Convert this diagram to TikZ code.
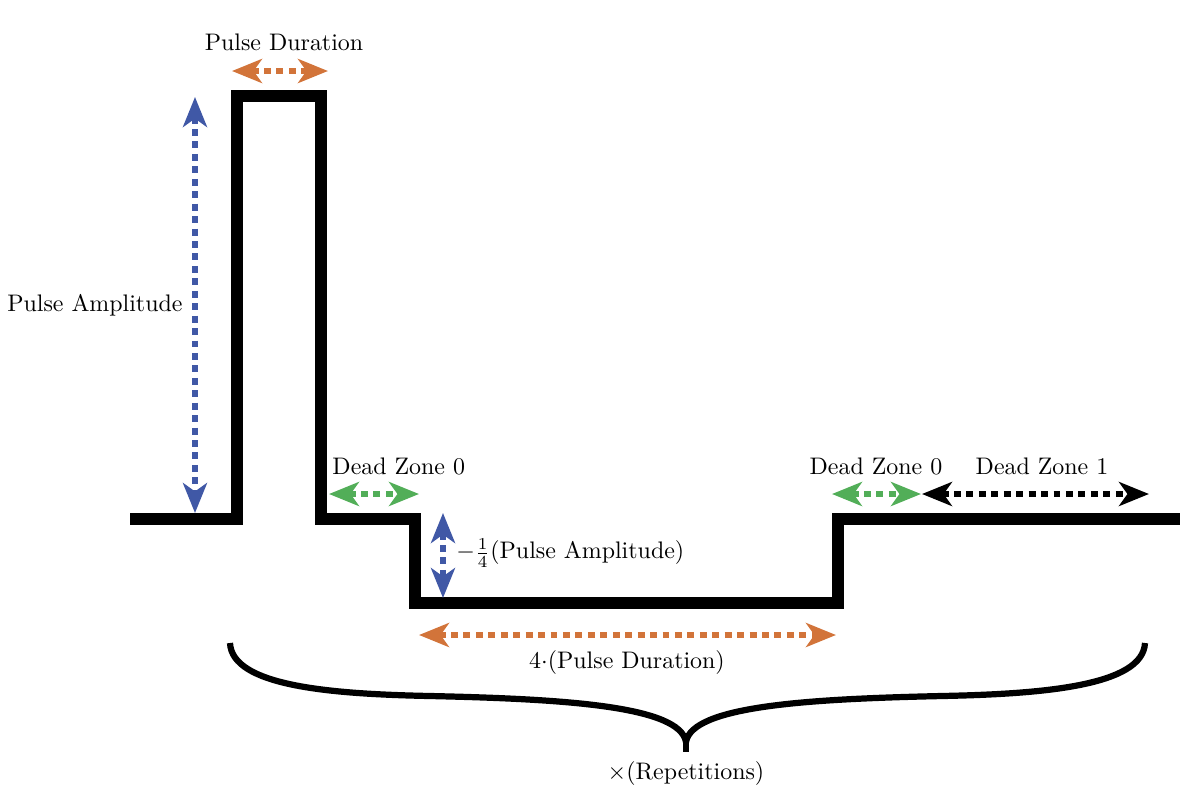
\documentclass[tikz,border=0pt]{standalone}
\usepackage[dvipsnames]{xcolor}
\usetikzlibrary{arrows.meta,positioning}

\definecolor{durorange}{RGB}{210,116,58}
\definecolor{ampblue}{RGB}{64,88,166}
\definecolor{deadgreen}{RGB}{82,174,88}

\begin{document}
\begin{tikzpicture}[x=0.418pt,y=-0.418pt,
    wave/.style={line width=5pt,line join=miter},
    span/.style={line width=2.9pt,dash pattern=on 2.9pt off 2.3pt,
        {Stealth[length=12.5pt,width=10pt,inset=3.5pt]}-{Stealth[length=12.5pt,width=10pt,inset=3.5pt]}},
    lbl/.style={inner sep=0pt,font=\normalsize}]

            \useasboundingbox (0,0) rectangle (1200,807);

            % the pulse train
            \draw[wave] (130,519) -- (237,519) -- (237,96) -- (321,96) -- (321,519)
                -- (415,519) -- (415,603) -- (838,603) -- (838,519) -- (1180,519);

            % end points of the spans
            \coordinate (d1) at (232,71);
            \coordinate (d2) at (328,71);
            \coordinate (a1) at (195,97);
            \coordinate (a2) at (195,513);
            \coordinate (z1) at (329,494);
            \coordinate (z2) at (419,494);
            \coordinate (n1) at (443,513);
            \coordinate (n2) at (443,598);
            \coordinate (f1) at (419,635);
            \coordinate (f2) at (836,635);
            \coordinate (z3) at (832,494);
            \coordinate (z4) at (921,494);
            \coordinate (z5) at (922,494);
            \coordinate (z6) at (1149,494);

            \draw[span,draw=durorange,color=durorange] (d1) to (d2);
            \draw[span,draw=ampblue,color=ampblue] (a1) to (a2);
            \draw[span,draw=deadgreen,color=deadgreen] (z1) to (z2);
            \draw[span,draw=ampblue,color=ampblue] (n1) to (n2);
            \draw[span,draw=durorange,color=durorange] (f1) to (f2);
            \draw[span,draw=deadgreen,color=deadgreen] (z3) to (z4);
            \draw[span] (z5) to (z6);

            % the brace
            \coordinate (b1) at (230,643);
            \coordinate (b2) at (1145,643);
            \coordinate (bt) at (686,742);
            \coordinate (bs) at (686,752);
            \draw[line width=2.6pt,line join=round]
                (b1) .. controls (232,686) and (330,694) .. (430,696)
                .. controls (565,699) and (680,706) .. (bt)
                .. controls (692,706) and (807,699) .. (942,696)
                .. controls (1042,694) and (1143,686) .. (b2);
            \draw[line width=2.6pt] (bt) -- (bs);

            % labels
            \node[lbl] (1) at (284,42) {Pulse Duration};
            \node[lbl,anchor=east] (2) at (183,305) {Pulse Amplitude};
            \node[lbl,anchor=west] (3) at (332,466) {Dead Zone 0};
            \node[lbl,anchor=west] (4) at (456,553) {$-\frac{1}{4}$(Pulse Amplitude)};
            \node[lbl] (5) at (627,663) {4$\cdot$(Pulse Duration)};
            \node[lbl] (6) at (876,466) {Dead Zone 0};
            \node[lbl] (7) at (1042,466) {Dead Zone 1};
            \node[lbl] (8) at (686,774) {$\times$(Repetitions)};

            ;
        \end{tikzpicture}
\end{document}
